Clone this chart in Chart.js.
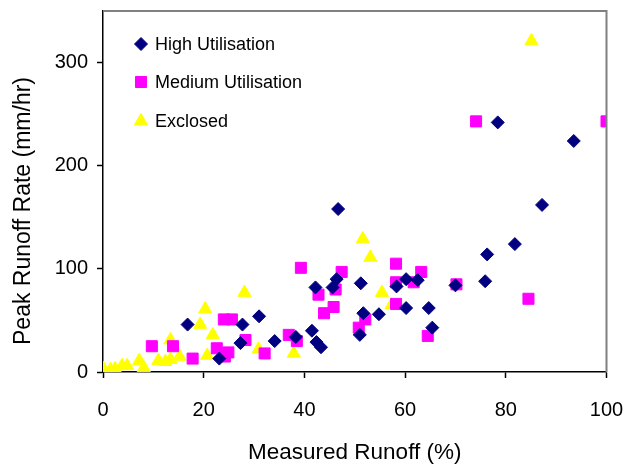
<!DOCTYPE html>
<html>
<head>
<meta charset="utf-8">
<script src="https://cdn.jsdelivr.net/npm/chart.js@4.4.1/dist/chart.umd.min.js"></script>
<style>
html,body{margin:0;padding:0;background:#fff;}
#wrap{width:629px;height:468px;}
</style>
</head>
<body>
<div id="wrap"><canvas id="c" width="629" height="468"></canvas></div>
<script>
const seriesNames = ["High Utilisation", "Medium Utilisation", "Exclosed"];
const highUtilisation = [
  [16.8,46],[23.1,13],[27.7,46],[27.3,28],[31.0,54],[34.1,30],[38.3,34],[41.5,40],[42.4,29],[43.3,24],
  [46.7,158],[42.2,82],[45.6,82],[46.4,90],[51.2,86],[51.7,57],[51.0,36],[54.8,56],[58.3,83],[60.2,90],
  [62.5,89],[60.2,62],[64.7,62],[65.4,43],[70.0,84],[75.9,88],[76.3,114],[81.8,124],[87.2,162],[78.4,242],[93.5,224]
];
const mediumUtilisation = [
  [9.7,25],[13.9,25],[17.8,13],[22.6,23],[24.9,19],[24.2,15],[24.0,51],[25.6,51],[28.3,31],[32.1,18],
  [36.9,36],[38.5,30],[39.3,101],[42.8,75],[43.9,57],[45.8,63],[46.2,80],[47.4,97],[50.8,43],[52.1,51],
  [58.2,105],[58.2,87],[58.2,66],[61.7,87],[63.2,97],[64.5,35],[70.2,85],[74.1,243],[84.5,71],[100,243]
];
const exclosed = [
  [0.1,3],[1.5,2],[2.4,3],[3.8,6],[4.8,6],[7.2,11],[8.1,4],[11.0,11],[12.4,10],[13.4,12],
  [13.4,31],[15.2,15],[19.3,46],[20.3,61],[21.8,36],[20.7,16],[28.1,77],[30.9,22],[37.9,18],
  [51.6,129],[53.1,111],[55.4,77],[57.3,65],[85.1,321]
];
const xTicks = [0,20,40,60,80,100];
const yTicks = [0,100,200,300];
const xTitle = "Measured Runoff (%)";
const yTitle = "Peak Runoff Rate (mm/hr)";

const FONT = "'Liberation Sans', Arial, sans-serif";
const toPts = a => a.map(p => ({x:p[0], y:p[1]}));

const frame = {
  id:'frame',
  afterDraw(chart){
    const {ctx, chartArea:a} = chart;
    ctx.save();
    ctx.strokeStyle = '#808080';
    ctx.lineWidth = 2;
    ctx.beginPath();
    ctx.moveTo(a.left, a.top);
    ctx.lineTo(a.right, a.top);
    ctx.lineTo(a.right, a.bottom);
    ctx.stroke();
    ctx.restore();
  }
};
const yAxisTitle = {
  id:'yAxisTitle',
  afterDraw(chart){
    const ctx = chart.ctx;
    ctx.save();
    ctx.translate(24, 211);
    ctx.rotate(-Math.PI/2);
    ctx.font = "23px " + FONT;
    ctx.fillStyle = '#000';
    ctx.textAlign = 'center';
    ctx.textBaseline = 'middle';
    ctx.fillText(yTitle, 0, 0);
    ctx.restore();
  }
};
const insideLegend = {
  id:'insideLegend',
  afterDraw(chart){
    const ctx = chart.ctx;
    const a = chart.chartArea;
    ctx.save();
    ctx.font = "18px " + FONT;
    ctx.textBaseline = 'middle';
    const x0 = a.left + 38, rows = [44, 82, 121];
    chart.data.datasets.forEach((ds, i) => {
      ctx.fillStyle = ds.backgroundColor;
      ctx.strokeStyle = ds.borderColor;
      ctx.lineWidth = 1;
      Chart.helpers.drawPoint(ctx, {pointStyle: ds.pointStyle, rotation:0, radius: ds.pointRadius, borderWidth:1}, x0, rows[i]);
      ctx.fillStyle = '#000';
      ctx.fillText(ds.label, x0 + 14, rows[i] + 1);
    });
    ctx.restore();
  }
};

new Chart(document.getElementById('c'), {
  type:'scatter',
  data:{
    datasets:[
      {label:seriesNames[0], data:toPts(highUtilisation), pointStyle:'rectRot', pointRadius:6.5, backgroundColor:'#000080', borderColor:'#000080', borderWidth:1},
      {label:seriesNames[1], data:toPts(mediumUtilisation), pointStyle:'rect', pointRadius:7.8, backgroundColor:'#FF00FF', borderColor:'#FF00FF', borderWidth:1},
      {label:seriesNames[2], data:toPts(exclosed), pointStyle:'triangle', pointRadius:7.6, backgroundColor:'#FFFF00', borderColor:'#FFFF00', borderWidth:1}
    ]
  },
  options:{
    responsive:false,
    animation:false,
    layout:{padding:{left:0, right:22.5, top:11, bottom:0}},
    plugins:{legend:{display:false}, tooltip:{enabled:false}},
    scales:{
      x:{
        type:'linear', min:0, max:100,
        afterBuildTicks: s => { s.ticks = xTicks.map(v => ({value:v})); },
        afterFit: s => { s.height = 96; s.paddingLeft = 0; s.paddingRight = 0; },
        border:{color:'#000', width:1.5},
        grid:{display:true, drawOnChartArea:false, drawTicks:true, tickLength:6, tickColor:'#000', tickWidth:1.5},
        ticks:{color:'#000', font:{family:FONT, size:20}, padding:20, maxRotation:0},
        title:{display:true, text:xTitle, color:'#000', font:{family:FONT, size:22.5}, padding:{top:10, bottom:2}}
      },
      y:{
        type:'linear', min:0, max:350,
        afterBuildTicks: s => { s.ticks = yTicks.map(v => ({value:v})); },
        afterFit: s => { s.width = 103; s.paddingTop = 0; s.paddingBottom = 0; },
        border:{color:'#000', width:1.5},
        grid:{display:true, drawOnChartArea:false, drawTicks:true, tickLength:6, tickColor:'#000', tickWidth:1.5},
        ticks:{color:'#000', font:{family:FONT, size:20}, padding:9},
        title:{display:false}
      }
    }
  },
  plugins:[frame, yAxisTitle, insideLegend]
});
</script>
</body>
</html>
